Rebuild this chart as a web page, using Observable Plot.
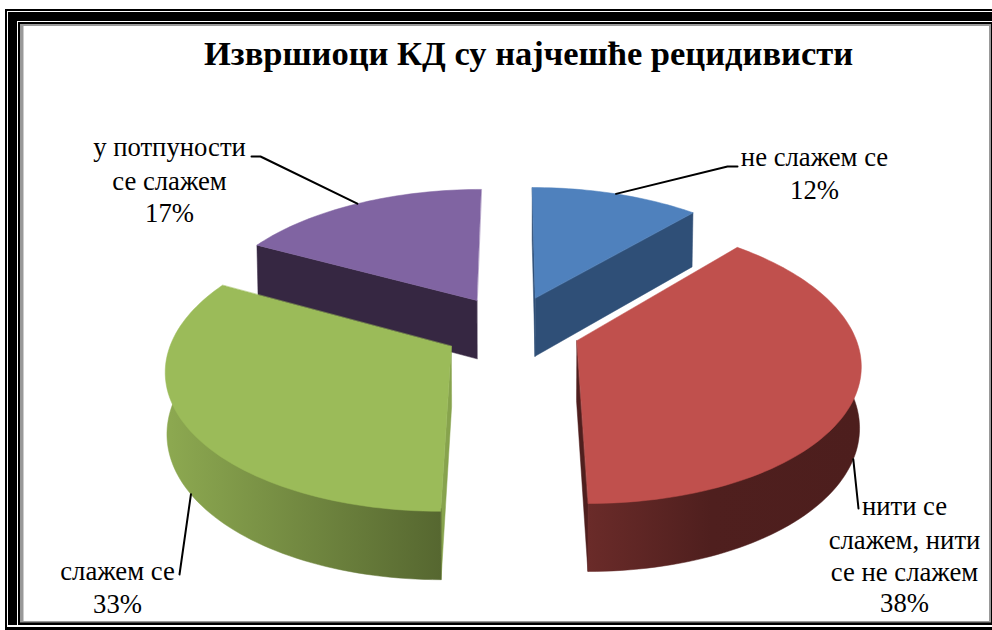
<!DOCTYPE html>
<html><head><meta charset="utf-8">
<script src="https://cdn.jsdelivr.net/npm/d3@7"></script>
<script src="https://cdn.jsdelivr.net/npm/@observablehq/plot@0.6"></script>
<style>html,body{margin:0;padding:0;background:#fff}svg{display:block}</style>
</head><body><div id="chart"></div>
<script>
const chartTitle = "Извршиоци КД су најчешће рецидивисти";
const categories = ["не слажем се", "нити се слажем, нити се не слажем", "слажем се", "у потпуности се слажем"];
const shares = [11.55, 38.45, 32.7, 17.3];
const labelLines = [["не слажем се","12%"],["нити се","слажем, нити","се не слажем","38%"],["слажем се","33%"],["у потпуности","се слажем","17%"]];

const topColors = ["#4f81bd","#c0504d","#9bbb59","#8064a2"];
const edgeColors = ["#2f4f77","#4f1f1e","#87a34d","#362742"];

const view = {cx:511, cy:328, A:276, B:135, p:0.147, explode:0.25};
const labelPlace = [
  {x:814, y:[157,190], shift:0, elbow:[[727,166],[737,166]]},
  {x:904, y:[506,540,572,603], shift:1.5, elbow:[[858,508]]},
  {x:117, y:[571,604], shift:-2, elbow:[[179,574]]},
  {x:169, y:[147,181,213], shift:0, elbow:[[260,156],[251,156]]}
];
// which straight wall of a slice faces the viewer: [at its start, at its end]
const wallVisible = [[true,true],[false,true],[true,false],[true,false]];

const rad = d => d*Math.PI/180;
const total = d3.sum(shares);
let acc = 0;
const starts = shares.map(s => {const a = acc; acc += s*360/total; return a;});
const ends = starts.map((a,i)=>a+shares[i]*360/total);
const mids = starts.map((a,i)=>(a+ends[i])/2);

function topPoint(i, r, deg){
  const m = mids[i];
  const u = view.explode*Math.sin(rad(m)) + r*Math.sin(rad(deg));
  const v = -view.explode*Math.cos(rad(m)) - r*Math.cos(rad(deg));
  const s = 1/(1 - view.p*v);
  return [view.cx + view.A*u*s, view.cy + view.B*v*s];
}
function botPoint(i, r, deg){
  const [x,y] = topPoint(i,r,deg);
  return [view.cx + (x-view.cx)*0.995, y + 53 + (y-187)*0.0475];
}

const polys = [];
function addPoly(id, pts, color){ pts.forEach(p=>polys.push({id, x:p[0], y:p[1], color})); }
[3,0,2,1].forEach(i=>{
  const a0=starts[i], a1=ends[i];
  [a0,a1].forEach((a,k)=>{
    if(!wallVisible[i][k]) return;
    addPoly(`e${i}${k}`,[topPoint(i,0,a),topPoint(i,1,a),botPoint(i,1,a),botPoint(i,0,a)],edgeColors[i]);
  });
  const from=Math.max(a0,45), to=Math.min(a1,300);
  if(to>from+5){
    const n=Math.ceil((to-from)/1.5), xs=d3.range(n+1).map(k=>from+(to-from)*k/n);
    addPoly(`c${i}`,[...xs.map(a=>topPoint(i,0.985,a)),...xs.slice().reverse().map(a=>botPoint(i,1,a))],`url(#wall${i})`);
  }
  const n=Math.ceil((a1-a0)/1.5);
  addPoly(`t${i}`,[topPoint(i,0,a0),...d3.range(n+1).map(k=>topPoint(i,1,a0+(a1-a0)*k/n))],topColors[i]);
});

const leaders=[], texts=[];
categories.forEach((c,i)=>{
  const front = i===1||i===2;
  const deg = mids[i]+labelPlace[i].shift;
  const anchor = front? botPoint(i,1,deg) : topPoint(i,1,deg);
  [anchor,...labelPlace[i].elbow].forEach(p=>leaders.push({id:i,x:p[0],y:p[1]}));
  labelLines[i].forEach((t,k)=>texts.push({x:labelPlace[i].x,y:labelPlace[i].y[k],t}));
});

// the picture's frame: nested layers, cut off by the right edge
const frameLayers=[
  {x1:5,y1:9,x2:992,y2:630,c:"#000"},
  {x1:7,y1:11,x2:992,y2:627,c:"#fff"},
  {x1:8,y1:12,x2:992,y2:625,c:"#000"},
  {x1:17,y1:21,x2:992,y2:625,c:"#fff"},
  {x1:18,y1:22,x2:992,y2:625,c:"#000"},
  {x1:20,y1:24,x2:991,y2:622.5,c:"#999"},
  {x1:23.5,y1:26,x2:989,y2:621,c:"#fff"}
];
const serif="Liberation Serif, Times New Roman, serif";
const plot=Plot.plot({
  width:992,height:630,margin:0,
  x:{domain:[0,992],axis:null},
  y:{domain:[630,0],axis:null},
  color:{type:"identity"},
  marks:[
    Plot.rect(frameLayers,{x1:"x1",y1:"y1",x2:"x2",y2:"y2",fill:"c"}),
    Plot.line(polys,{x:"x",y:"y",z:"id",fill:"color",stroke:"color",strokeWidth:0.5,curve:"linear-closed"}),
    Plot.line(leaders,{x:"x",y:"y",z:"id",stroke:"#000",strokeWidth:2}),
    Plot.text(texts,{x:"x",y:"y",text:"t",fontFamily:serif,fontSize:26.7,fill:"#000"}),
    Plot.text([chartTitle],{x:()=>528,y:()=>53,text:d=>d,fontFamily:serif,fontWeight:"bold",fontSize:34.5,fill:"#000"})
  ]
});
// wall shading as real SVG gradients
const svgNS="http://www.w3.org/2000/svg";
const defs=document.createElementNS(svgNS,"defs");
[[1,588,860,[[0,"#6a2b29"],[0.45,"#4f1f1e"],[1,"#4d1e1d"]]],
 [2,170,441,[[0,"#8ca850"],[1,"#566730"]]]].forEach(([i,x1,x2,stops])=>{
  const g=document.createElementNS(svgNS,"linearGradient");
  g.setAttribute("id",`wall${i}`);g.setAttribute("gradientUnits","userSpaceOnUse");
  g.setAttribute("x1",x1);g.setAttribute("x2",x2);g.setAttribute("y1",0);g.setAttribute("y2",0);
  stops.forEach(([o,c])=>{const s=document.createElementNS(svgNS,"stop");s.setAttribute("offset",o);s.setAttribute("stop-color",c);g.appendChild(s);});
  defs.appendChild(g);
});
plot.insertBefore(defs,plot.firstChild);
document.getElementById("chart").appendChild(plot);
</script></body></html>
